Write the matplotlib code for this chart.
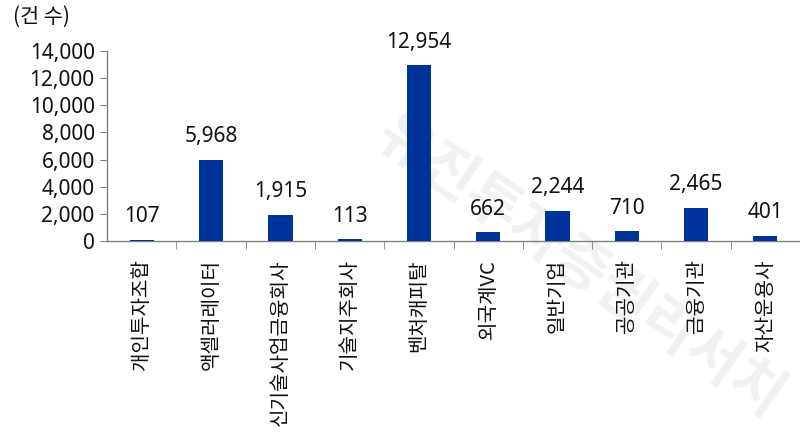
import matplotlib
matplotlib.use("Agg")
import matplotlib.pyplot as plt
from matplotlib.ticker import FuncFormatter, FixedLocator

plt.rcParams['font.family'] = ['Noto Sans', 'Noto Sans CJK KR', 'DejaVu Sans']

categories = ['개인투자조합', '액셀러레이터', '신기술사업금융회사', '기술지주회사', '벤처캐피탈',
              '외국계VC', '일반기업', '공공기관', '금융기관', '자산운용사']
values = [107, 5968, 1915, 113, 12954, 662, 2244, 710, 2465, 401]
yticks = [0, 2000, 4000, 6000, 8000, 10000, 12000, 14000]
unit_label = '(건 수)'
watermark = '유진투자증권리서치'

fig = plt.figure(figsize=(8, 4.38), dpi=100)
fig.text(0.725, 0.39, watermark, fontsize=42, fontweight='bold', rotation=-35,
         family=['Noto Sans CJK KR'], ha='center', va='center', color='#f1f1f1', zorder=-5)

ax = fig.add_axes([0.134, 0.4498, 0.866, 0.4338])
ax.patch.set_alpha(0)

x = list(range(len(categories)))
ax.bar(x, values, width=0.35, color='#003399', zorder=3)

for xi, v in zip(x, values):
    ax.annotate(f'{v:,}', (xi, v), xytext=(0, 9), textcoords='offset points',
                ha='center', va='bottom', fontsize=15, color='#111111')

ax.set_xlim(-0.5, len(categories) - 0.5)
ax.set_ylim(0, 14000)
ax.set_yticks(yticks)
ax.yaxis.set_major_formatter(FuncFormatter(lambda v, p: f'{int(v):,}'))
ax.tick_params(axis='y', labelsize=15, length=5, color='#808080', pad=4, labelcolor='#111111')

ax.set_xticks(x)
ax.set_xticklabels(categories, rotation=90, fontsize=14.5, color='#111111',
                   family=['Noto Sans CJK KR', 'Noto Sans'])
ax.tick_params(axis='x', length=0, pad=13)
ax.xaxis.set_minor_locator(FixedLocator([i + 0.5 for i in range(len(categories) - 1)]))
ax.tick_params(axis='x', which='minor', length=6, color='#808080', direction='out')

for s in ['top', 'right']:
    ax.spines[s].set_visible(False)
for s in ['left', 'bottom']:
    ax.spines[s].set_color('#808080')
    ax.spines[s].set_linewidth(1.0)

fig.text(0.016, 0.962, unit_label, fontsize=15, ha='left', va='center', color='#111111',
         family=['Noto Sans CJK KR', 'Noto Sans'])

fig.savefig('out.png', dpi=100)
